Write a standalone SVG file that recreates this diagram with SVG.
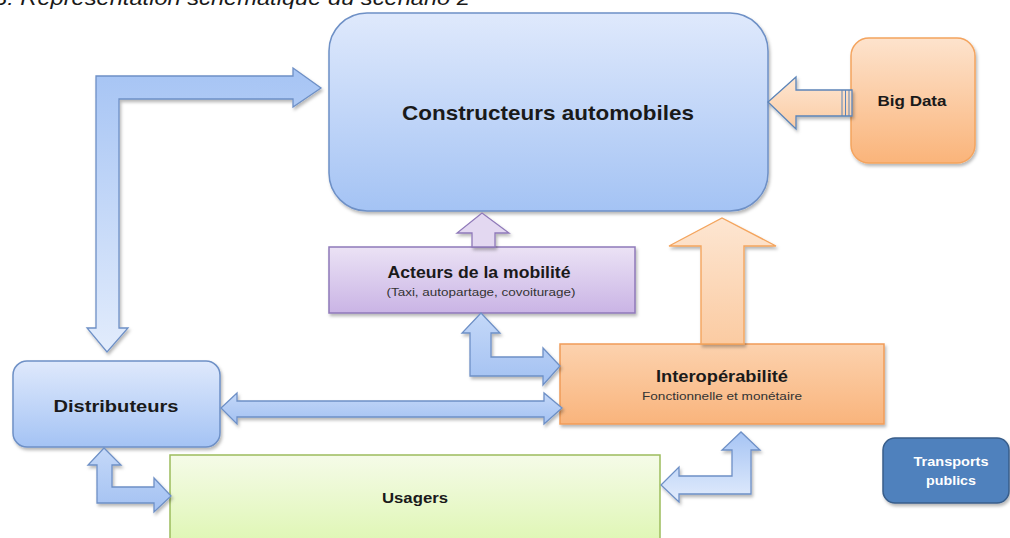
<svg xmlns="http://www.w3.org/2000/svg" width="1010" height="538" viewBox="0 0 1010 538">
<defs>
<linearGradient id="gBlue" x1="0" y1="0" x2="0" y2="1"><stop offset="0" stop-color="#dfe9fc"/><stop offset="1" stop-color="#a4c3f4"/></linearGradient>
<linearGradient id="gBlueArrow" x1="0" y1="0" x2="0" y2="1"><stop offset="0" stop-color="#a6c4f4"/><stop offset="1" stop-color="#e2ecfc"/></linearGradient>
<linearGradient id="gBlueArrow2" x1="0" y1="0" x2="0" y2="1"><stop offset="0" stop-color="#c4d8f8"/><stop offset="1" stop-color="#a3c1f2"/></linearGradient>
<linearGradient id="gOrange" x1="0" y1="0" x2="0" y2="1"><stop offset="0" stop-color="#fde3cd"/><stop offset="1" stop-color="#fab47a"/></linearGradient>
<linearGradient id="gOrangeBox" x1="0" y1="0" x2="0" y2="1"><stop offset="0" stop-color="#fcd2ae"/><stop offset="1" stop-color="#f9b47c"/></linearGradient>
<linearGradient id="gOrangeArrow" x1="0" y1="0" x2="0" y2="1"><stop offset="0" stop-color="#fde6d2"/><stop offset="1" stop-color="#fbcba2"/></linearGradient>
<linearGradient id="gPurple" x1="0" y1="0" x2="0" y2="1"><stop offset="0" stop-color="#ebe2f5"/><stop offset="1" stop-color="#cab4e5"/></linearGradient>
<linearGradient id="gGreen" x1="0" y1="0" x2="0" y2="1"><stop offset="0" stop-color="#f5fbe8"/><stop offset="1" stop-color="#ddf6b0"/></linearGradient>
<filter id="sh" x="-10%" y="-10%" width="125%" height="130%"><feDropShadow dx="1.5" dy="2.5" stdDeviation="1.8" flood-color="#000" flood-opacity="0.28"/></filter>
</defs>
<style>
text{font-family:"Liberation Sans",Arial,sans-serif;text-anchor:middle;fill:#1a1a1a}
.b{font-weight:bold}
.blue{fill:url(#gBlue);stroke:#6e90c6;stroke-width:1.5}
.barrow{fill:url(#gBlueArrow);stroke:#6e90c6;stroke-width:1.3;stroke-linejoin:miter}
.barrow2{fill:url(#gBlueArrow2);stroke:#6e90c6;stroke-width:1.3}
.sub{fill:#333}
</style>
<text x="-6" y="5" style="font-style:italic;text-anchor:start;font-size:20px" textLength="476" lengthAdjust="spacingAndGlyphs">3: Représentation schématique du scénario 2</text>

<g id="constructeurs">
<rect x="329" y="13" width="439" height="198" rx="38" class="blue" filter="url(#sh)"/>
<text x="548" y="120" class="b" style="font-size:21px" textLength="292" lengthAdjust="spacingAndGlyphs">Constructeurs automobiles</text>
</g>
<g id="bigdata">
<rect x="851" y="38" width="124" height="125" rx="18" fill="url(#gOrange)" stroke="#f4a45e" stroke-width="1.5" filter="url(#sh)"/>
<text x="912" y="106" class="b" style="font-size:15.5px" textLength="69" lengthAdjust="spacingAndGlyphs">Big Data</text>
</g>
<g id="acteurs">
<rect x="329" y="247" width="306" height="66" fill="url(#gPurple)" stroke="#8f79b9" stroke-width="1.5" filter="url(#sh)"/>
<text x="479" y="278" class="b" style="font-size:16px" textLength="183" lengthAdjust="spacingAndGlyphs">Acteurs de la mobilité</text>
<text x="481" y="296" class="sub" style="font-size:11.5px" textLength="189" lengthAdjust="spacingAndGlyphs">(Taxi, autopartage, covoiturage)</text>
</g>
<g id="interoperabilite">
<rect x="560" y="344" width="324" height="80" fill="url(#gOrangeBox)" stroke="#f09c58" stroke-width="1.5" filter="url(#sh)"/>
<text x="722" y="382" class="b" style="font-size:16px" textLength="132" lengthAdjust="spacingAndGlyphs">Interopérabilité</text>
<text x="722" y="400" class="sub" style="font-size:11.5px" textLength="160" lengthAdjust="spacingAndGlyphs">Fonctionnelle et monétaire</text>
</g>
<g id="distributeurs">
<rect x="13" y="361" width="207" height="86" rx="14" class="blue" filter="url(#sh)"/>
<text x="116" y="412" class="b" style="font-size:17px" textLength="125" lengthAdjust="spacingAndGlyphs">Distributeurs</text>
</g>
<g id="usagers">
<rect x="170" y="455" width="490" height="95" fill="url(#gGreen)" stroke="#9cbc5c" stroke-width="1.5"/>
<text x="415" y="503" class="b" style="font-size:15.5px" textLength="66" lengthAdjust="spacingAndGlyphs">Usagers</text>
</g>
<g id="transports">
<rect x="883" y="438" width="126" height="65" rx="12" fill="#4f81bd" stroke="#385d8a" stroke-width="1.5" filter="url(#sh)"/>
<text x="951" y="466" class="b" style="font-size:13.5px;fill:#fff" textLength="75" lengthAdjust="spacingAndGlyphs">Transports</text>
<text x="951" y="485" class="b" style="font-size:13.5px;fill:#fff" textLength="50" lengthAdjust="spacingAndGlyphs">publics</text>
</g>

<g id="connectors">
<path class="barrow" filter="url(#sh)" d="M96,76 L293,76 L293,68 L321,88 L293,107 L293,99 L119,99 L119,328 L128,328 L107,352 L87,328 L96,328 Z"/>
<path fill="url(#gOrangeArrow)" stroke="#5b84b8" stroke-width="1.3" filter="url(#sh)" d="M852,90 L796,90 L796,77 L768,102 L796,129 L796,116 L852,116 Z"/>
<path fill="none" stroke="#5b84b8" stroke-width="1" d="M842,90 V116 M845.5,90 V116 M849,90 V116"/>
<path fill="#e3d8f1" stroke="#8f79b9" stroke-width="1.3" filter="url(#sh)" d="M472,247 L472,233 L457,233 L482,213 L509,233 L495,233 L495,247 Z"/>
<path class="barrow2" filter="url(#sh)" d="M470,376 L470,333 L462,333 L481,313 L500,333 L491,333 L491,357 L543,357 L543,348 L560,366 L543,385 L543,376 Z"/>
<path fill="url(#gOrangeArrow)" stroke="#f4a55e" stroke-width="1.4" filter="url(#sh)" d="M701,344 L701,246 L669,246 L722,218 L776,246 L744,246 L744,344 Z"/>
<path class="barrow2" filter="url(#sh)" d="M221,408 L237,393 L237,401 L544,401 L544,393 L562,408 L544,424 L544,417 L237,417 L237,424 Z"/>
<path class="barrow2" filter="url(#sh)" d="M97,503 L97,465 L88,465 L104,448 L121,465 L112,465 L112,487 L154,487 L154,478 L171,496 L154,512 L154,503 Z"/>
<path class="barrow" filter="url(#sh)" d="M751,494 L751,450 L760,450 L741,432 L722,450 L732,450 L732,476 L679,476 L679,467 L661,485 L679,502 L679,494 Z"/>
</g>
</svg>
